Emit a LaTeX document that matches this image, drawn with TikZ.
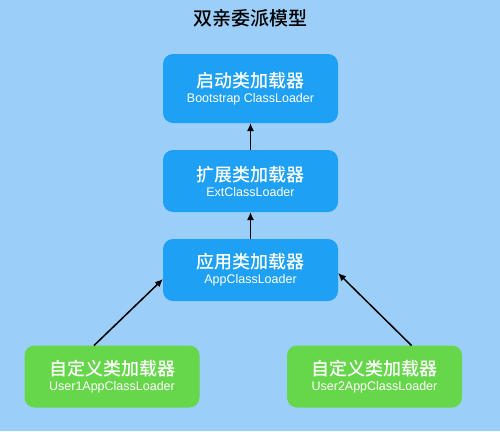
\documentclass[tikz,border=0pt]{standalone}
\usepackage{fontspec}
\setmainfont{Liberation Sans}
\newfontfamily\cjk{Noto Sans CJK SC Medium}
\usepackage{tikz}
\usetikzlibrary{positioning}
\usetikzlibrary{arrows.meta}
\definecolor{background}{RGB}{155,207,250}
\definecolor{loaderblue}{RGB}{30,160,245}
\definecolor{loadergreen}{RGB}{102,214,74}
\newcommand{\loader}[2]{{\cjk\fontsize{18}{20}\selectfont #1}\\[3pt]{\fontsize{12.5}{14}\selectfont #2}}

\begin{document}
\begin{tikzpicture}[x=1pt,y=-1pt,node distance=27pt,
	every node/.style={inner sep=0,outer sep=0},
	box/.style={rounded corners=10pt,minimum width=175pt,minimum height=62pt,align=center,text=white},
	bluebox/.style={box,fill=loaderblue},
	greenbox/.style={box,fill=loadergreen},
	arr/.style={-{Latex[length=8pt,width=7pt]},line width=1.5pt}]
	\fill[background] (0,0) rectangle (500,431);
	\useasboundingbox (0,0) rectangle (500,431);
	\node (title) at (250,18) {\cjk\fontsize{19}{21}\selectfont 双亲委派模型};
	\node (boot) [bluebox,minimum height=69pt] at (250.5,88.5) {\loader{启动类加载器}{Bootstrap ClassLoader}};
	\node (ext) [bluebox,below=of boot] {\loader{扩展类加载器}{ExtClassLoader}};
	\node (app) [bluebox,below=of ext] {\loader{应用类加载器}{AppClassLoader}};
	\node (user1) [greenbox] at (112,376.5) {\loader{自定义类加载器}{User1AppClassLoader}};
	\node (user2) [greenbox] at (374.5,376.5) {\loader{自定义类加载器}{User2AppClassLoader}};
    \path[arr]
        (ext) edge (boot)
        (app) edge (ext)
        ([xshift=-18pt]user1.north) edge ([yshift=-9pt]app.west)
        ([xshift=37pt]user2.north) edge ([yshift=-3pt]app.east);
\end{tikzpicture}
\end{document}
